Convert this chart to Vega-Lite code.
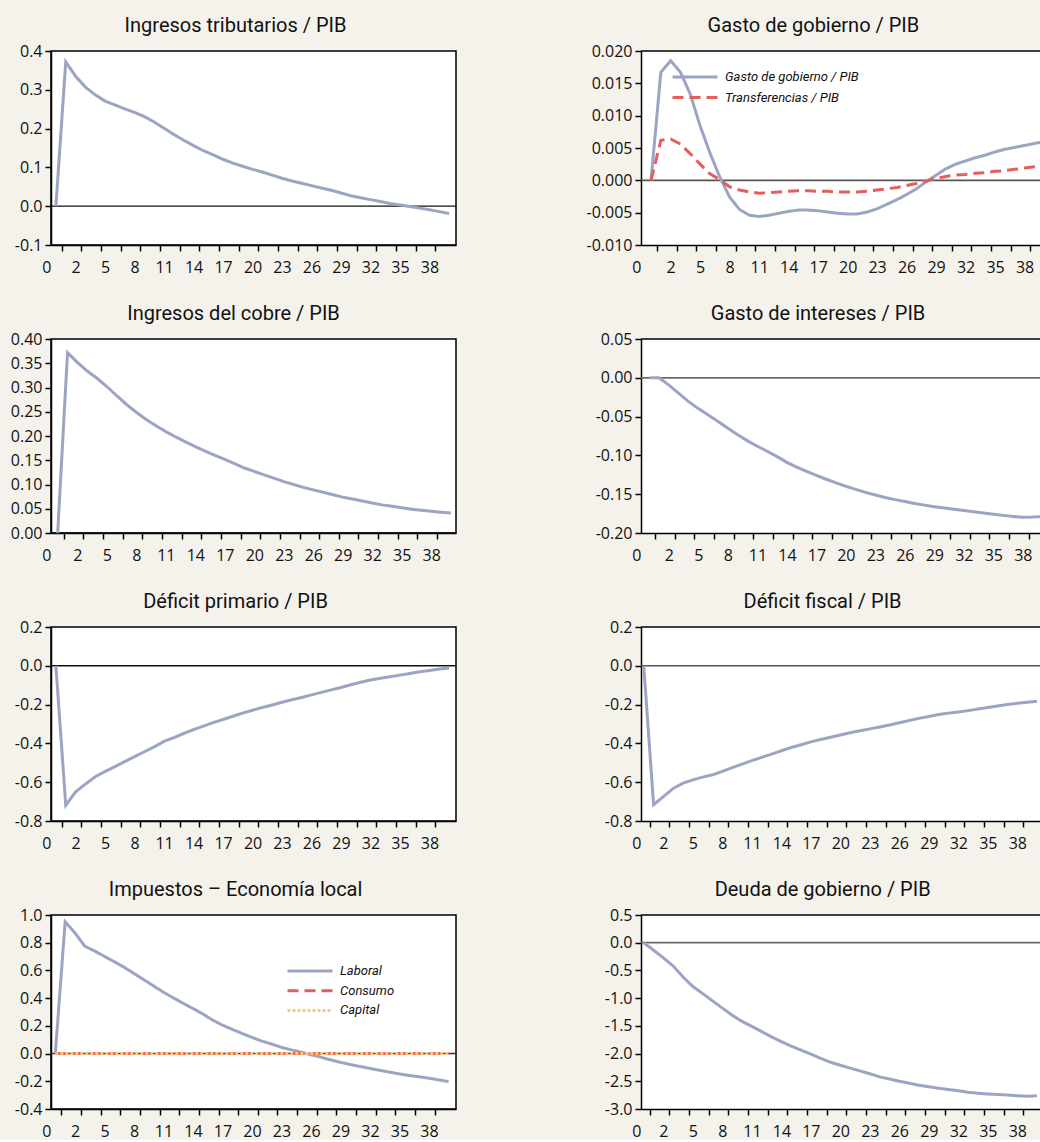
{
  "$schema": "https://vega.github.io/schema/vega-lite/v6.json",
  "background": "#f5f2ec",
  "padding": {"left": 9, "top": 15, "right": 0, "bottom": 0},
  "columns": 2,
  "spacing": {"row": 94, "column": 185},
  "bounds": "flush",
  "align": "each",
  "resolve": {"scale": {"color": "independent", "strokeDash": "independent"}, "legend": {"color": "independent", "strokeDash": "independent"}},
  "config": {
    "view": {"fill": "white", "stroke": "#000", "strokeWidth": 1.5},
    "axis": {"labelFont": "Open Sans", "labelFontSize": 16, "labelColor": "#111", "domainColor": "#000", "domainWidth": 1.5, "tickColor": "#000", "tickWidth": 1.5, "tickSize": 6, "labelPadding": 3, "grid": false},
    "title": {"font": "Roboto", "fontSize": 20, "fontWeight": "normal", "color": "#111", "frame": "bounds", "anchor": "middle", "baseline": "alphabetic", "offset": 7},
    "legend": {"labelFont": "Roboto", "labelFontSize": 13, "labelFontStyle": "italic", "labelColor": "#111"}
  },
  "datasets": {
    "trib": [{"t":0,"v":0},{"t":1,"v":0.372},{"t":2,"v":0.335},{"t":3,"v":0.307},{"t":4,"v":0.287},{"t":5,"v":0.271},{"t":6,"v":0.261},{"t":7,"v":0.251},{"t":8,"v":0.242},{"t":9,"v":0.231},{"t":10,"v":0.217},{"t":11,"v":0.201},{"t":12,"v":0.185},{"t":13,"v":0.170},{"t":14,"v":0.156},{"t":15,"v":0.143},{"t":16,"v":0.132},{"t":17,"v":0.121},{"t":18,"v":0.111},{"t":19,"v":0.103},{"t":20,"v":0.095},{"t":21,"v":0.088},{"t":22,"v":0.080},{"t":23,"v":0.072},{"t":24,"v":0.065},{"t":25,"v":0.059},{"t":26,"v":0.053},{"t":27,"v":0.047},{"t":28,"v":0.041},{"t":29,"v":0.034},{"t":30,"v":0.027},{"t":31,"v":0.022},{"t":32,"v":0.017},{"t":33,"v":0.012},{"t":34,"v":0.007},{"t":35,"v":0.003},{"t":36,"v":-0.001},{"t":37,"v":-0.005},{"t":38,"v":-0.009},{"t":39,"v":-0.014},{"t":40,"v":-0.019}],
    "gob": [{"s":"Gasto de gobierno / PIB","t":0,"v":0},{"s":"Gasto de gobierno / PIB","t":1,"v":0.0167},{"s":"Gasto de gobierno / PIB","t":2,"v":0.0185},{"s":"Gasto de gobierno / PIB","t":3,"v":0.0167},{"s":"Gasto de gobierno / PIB","t":4,"v":0.0133},{"s":"Gasto de gobierno / PIB","t":5,"v":0.0084},{"s":"Gasto de gobierno / PIB","t":6,"v":0.0042},{"s":"Gasto de gobierno / PIB","t":7,"v":0.0005},{"s":"Gasto de gobierno / PIB","t":8,"v":-0.0026},{"s":"Gasto de gobierno / PIB","t":9,"v":-0.0045},{"s":"Gasto de gobierno / PIB","t":10,"v":-0.0054},{"s":"Gasto de gobierno / PIB","t":11,"v":-0.0056},{"s":"Gasto de gobierno / PIB","t":12,"v":-0.0054},{"s":"Gasto de gobierno / PIB","t":13,"v":-0.0051},{"s":"Gasto de gobierno / PIB","t":14,"v":-0.0048},{"s":"Gasto de gobierno / PIB","t":15,"v":-0.0046},{"s":"Gasto de gobierno / PIB","t":16,"v":-0.0046},{"s":"Gasto de gobierno / PIB","t":17,"v":-0.0047},{"s":"Gasto de gobierno / PIB","t":18,"v":-0.0049},{"s":"Gasto de gobierno / PIB","t":19,"v":-0.0051},{"s":"Gasto de gobierno / PIB","t":20,"v":-0.0052},{"s":"Gasto de gobierno / PIB","t":21,"v":-0.0052},{"s":"Gasto de gobierno / PIB","t":22,"v":-0.0049},{"s":"Gasto de gobierno / PIB","t":23,"v":-0.0044},{"s":"Gasto de gobierno / PIB","t":24,"v":-0.0037},{"s":"Gasto de gobierno / PIB","t":25,"v":-0.003},{"s":"Gasto de gobierno / PIB","t":26,"v":-0.0022},{"s":"Gasto de gobierno / PIB","t":27,"v":-0.0013},{"s":"Gasto de gobierno / PIB","t":28,"v":-0.0002},{"s":"Gasto de gobierno / PIB","t":29,"v":0.0008},{"s":"Gasto de gobierno / PIB","t":30,"v":0.0018},{"s":"Gasto de gobierno / PIB","t":31,"v":0.0025},{"s":"Gasto de gobierno / PIB","t":32,"v":0.003},{"s":"Gasto de gobierno / PIB","t":33,"v":0.0035},{"s":"Gasto de gobierno / PIB","t":34,"v":0.0039},{"s":"Gasto de gobierno / PIB","t":35,"v":0.0044},{"s":"Gasto de gobierno / PIB","t":36,"v":0.0048},{"s":"Gasto de gobierno / PIB","t":37,"v":0.0051},{"s":"Gasto de gobierno / PIB","t":38,"v":0.0054},{"s":"Gasto de gobierno / PIB","t":39,"v":0.0057},{"s":"Gasto de gobierno / PIB","t":40,"v":0.006},
      {"s":"Transferencias / PIB","t":0,"v":0},{"s":"Transferencias / PIB","t":1,"v":0.0062},{"s":"Transferencias / PIB","t":2,"v":0.0064},{"s":"Transferencias / PIB","t":3,"v":0.0056},{"s":"Transferencias / PIB","t":4,"v":0.0041},{"s":"Transferencias / PIB","t":5,"v":0.0025},{"s":"Transferencias / PIB","t":6,"v":0.001},{"s":"Transferencias / PIB","t":7,"v":0.0001},{"s":"Transferencias / PIB","t":8,"v":-0.001},{"s":"Transferencias / PIB","t":9,"v":-0.0015},{"s":"Transferencias / PIB","t":10,"v":-0.0018},{"s":"Transferencias / PIB","t":11,"v":-0.002},{"s":"Transferencias / PIB","t":12,"v":-0.0019},{"s":"Transferencias / PIB","t":13,"v":-0.0018},{"s":"Transferencias / PIB","t":14,"v":-0.0017},{"s":"Transferencias / PIB","t":15,"v":-0.0016},{"s":"Transferencias / PIB","t":16,"v":-0.0016},{"s":"Transferencias / PIB","t":17,"v":-0.0017},{"s":"Transferencias / PIB","t":18,"v":-0.0017},{"s":"Transferencias / PIB","t":19,"v":-0.0018},{"s":"Transferencias / PIB","t":20,"v":-0.0018},{"s":"Transferencias / PIB","t":21,"v":-0.0018},{"s":"Transferencias / PIB","t":22,"v":-0.0017},{"s":"Transferencias / PIB","t":23,"v":-0.0015},{"s":"Transferencias / PIB","t":24,"v":-0.0013},{"s":"Transferencias / PIB","t":25,"v":-0.0011},{"s":"Transferencias / PIB","t":26,"v":-0.0008},{"s":"Transferencias / PIB","t":27,"v":-0.0005},{"s":"Transferencias / PIB","t":28,"v":-0.0001},{"s":"Transferencias / PIB","t":29,"v":0.0003},{"s":"Transferencias / PIB","t":30,"v":0.0006},{"s":"Transferencias / PIB","t":31,"v":0.0008},{"s":"Transferencias / PIB","t":32,"v":0.0009},{"s":"Transferencias / PIB","t":33,"v":0.0011},{"s":"Transferencias / PIB","t":34,"v":0.0012},{"s":"Transferencias / PIB","t":35,"v":0.0014},{"s":"Transferencias / PIB","t":36,"v":0.0015},{"s":"Transferencias / PIB","t":37,"v":0.0017},{"s":"Transferencias / PIB","t":38,"v":0.0019},{"s":"Transferencias / PIB","t":39,"v":0.0021},{"s":"Transferencias / PIB","t":40,"v":0.0023}],
    "cobre": [{"t":0,"v":0},{"t":1,"v":0.372},{"t":2,"v":0.352},{"t":3,"v":0.334},{"t":4,"v":0.319},{"t":5,"v":0.302},{"t":6,"v":0.283},{"t":7,"v":0.265},{"t":8,"v":0.249},{"t":9,"v":0.234},{"t":10,"v":0.221},{"t":11,"v":0.209},{"t":12,"v":0.198},{"t":13,"v":0.188},{"t":14,"v":0.178},{"t":15,"v":0.169},{"t":16,"v":0.160},{"t":17,"v":0.152},{"t":18,"v":0.143},{"t":19,"v":0.134},{"t":20,"v":0.127},{"t":21,"v":0.120},{"t":22,"v":0.113},{"t":23,"v":0.106},{"t":24,"v":0.100},{"t":25,"v":0.094},{"t":26,"v":0.089},{"t":27,"v":0.084},{"t":28,"v":0.079},{"t":29,"v":0.074},{"t":30,"v":0.070},{"t":31,"v":0.066},{"t":32,"v":0.062},{"t":33,"v":0.058},{"t":34,"v":0.055},{"t":35,"v":0.052},{"t":36,"v":0.049},{"t":37,"v":0.047},{"t":38,"v":0.045},{"t":39,"v":0.043},{"t":40,"v":0.041}],
    "intereses": [{"t":0,"v":0},{"t":1,"v":0},{"t":2,"v":-0.0094},{"t":3,"v":-0.020},{"t":4,"v":-0.0307},{"t":5,"v":-0.0397},{"t":6,"v":-0.048},{"t":7,"v":-0.0563},{"t":8,"v":-0.065},{"t":9,"v":-0.0733},{"t":10,"v":-0.0813},{"t":11,"v":-0.0882},{"t":12,"v":-0.0946},{"t":13,"v":-0.1016},{"t":14,"v":-0.109},{"t":15,"v":-0.1152},{"t":16,"v":-0.1206},{"t":17,"v":-0.1257},{"t":18,"v":-0.1307},{"t":19,"v":-0.1353},{"t":20,"v":-0.1398},{"t":21,"v":-0.1438},{"t":22,"v":-0.1476},{"t":23,"v":-0.151},{"t":24,"v":-0.1542},{"t":25,"v":-0.157},{"t":26,"v":-0.1595},{"t":27,"v":-0.1619},{"t":28,"v":-0.1641},{"t":29,"v":-0.1661},{"t":30,"v":-0.1679},{"t":31,"v":-0.1695},{"t":32,"v":-0.171},{"t":33,"v":-0.1725},{"t":34,"v":-0.1742},{"t":35,"v":-0.1758},{"t":36,"v":-0.1773},{"t":37,"v":-0.1786},{"t":38,"v":-0.1798},{"t":39,"v":-0.1795},{"t":40,"v":-0.1788}],
    "defprim": [{"t":0,"v":0},{"t":1,"v":-0.719},{"t":2,"v":-0.65},{"t":3,"v":-0.61},{"t":4,"v":-0.572},{"t":5,"v":-0.545},{"t":6,"v":-0.52},{"t":7,"v":-0.494},{"t":8,"v":-0.468},{"t":9,"v":-0.443},{"t":10,"v":-0.418},{"t":11,"v":-0.39},{"t":12,"v":-0.37},{"t":13,"v":-0.349},{"t":14,"v":-0.329},{"t":15,"v":-0.311},{"t":16,"v":-0.293},{"t":17,"v":-0.277},{"t":18,"v":-0.26},{"t":19,"v":-0.244},{"t":20,"v":-0.229},{"t":21,"v":-0.215},{"t":22,"v":-0.202},{"t":23,"v":-0.188},{"t":24,"v":-0.175},{"t":25,"v":-0.163},{"t":26,"v":-0.15},{"t":27,"v":-0.137},{"t":28,"v":-0.124},{"t":29,"v":-0.112},{"t":30,"v":-0.098},{"t":31,"v":-0.085},{"t":32,"v":-0.073},{"t":33,"v":-0.064},{"t":34,"v":-0.056},{"t":35,"v":-0.048},{"t":36,"v":-0.04},{"t":37,"v":-0.031},{"t":38,"v":-0.024},{"t":39,"v":-0.017},{"t":40,"v":-0.011}],
    "deffis": [{"t":0,"v":0},{"t":1,"v":-0.716},{"t":2,"v":-0.674},{"t":3,"v":-0.632},{"t":4,"v":-0.605},{"t":5,"v":-0.588},{"t":6,"v":-0.574},{"t":7,"v":-0.562},{"t":8,"v":-0.544},{"t":9,"v":-0.525},{"t":10,"v":-0.507},{"t":11,"v":-0.489},{"t":12,"v":-0.472},{"t":13,"v":-0.455},{"t":14,"v":-0.438},{"t":15,"v":-0.421},{"t":16,"v":-0.407},{"t":17,"v":-0.392},{"t":18,"v":-0.38},{"t":19,"v":-0.368},{"t":20,"v":-0.357},{"t":21,"v":-0.345},{"t":22,"v":-0.335},{"t":23,"v":-0.325},{"t":24,"v":-0.315},{"t":25,"v":-0.305},{"t":26,"v":-0.294},{"t":27,"v":-0.282},{"t":28,"v":-0.271},{"t":29,"v":-0.261},{"t":30,"v":-0.251},{"t":31,"v":-0.244},{"t":32,"v":-0.238},{"t":33,"v":-0.231},{"t":34,"v":-0.223},{"t":35,"v":-0.215},{"t":36,"v":-0.207},{"t":37,"v":-0.2},{"t":38,"v":-0.193},{"t":39,"v":-0.188},{"t":40,"v":-0.183}],
    "impuestos": [{"s":"Laboral","t":0,"v":0},{"s":"Laboral","t":1,"v":0.952},{"s":"Laboral","t":2,"v":0.87},{"s":"Laboral","t":3,"v":0.775},{"s":"Laboral","t":4,"v":0.74},{"s":"Laboral","t":5,"v":0.701},{"s":"Laboral","t":6,"v":0.663},{"s":"Laboral","t":7,"v":0.623},{"s":"Laboral","t":8,"v":0.578},{"s":"Laboral","t":9,"v":0.533},{"s":"Laboral","t":10,"v":0.488},{"s":"Laboral","t":11,"v":0.443},{"s":"Laboral","t":12,"v":0.402},{"s":"Laboral","t":13,"v":0.363},{"s":"Laboral","t":14,"v":0.325},{"s":"Laboral","t":15,"v":0.286},{"s":"Laboral","t":16,"v":0.242},{"s":"Laboral","t":17,"v":0.205},{"s":"Laboral","t":18,"v":0.175},{"s":"Laboral","t":19,"v":0.145},{"s":"Laboral","t":20,"v":0.117},{"s":"Laboral","t":21,"v":0.09},{"s":"Laboral","t":22,"v":0.069},{"s":"Laboral","t":23,"v":0.045},{"s":"Laboral","t":24,"v":0.027},{"s":"Laboral","t":25,"v":0.01},{"s":"Laboral","t":26,"v":-0.008},{"s":"Laboral","t":27,"v":-0.026},{"s":"Laboral","t":28,"v":-0.045},{"s":"Laboral","t":29,"v":-0.063},{"s":"Laboral","t":30,"v":-0.079},{"s":"Laboral","t":31,"v":-0.093},{"s":"Laboral","t":32,"v":-0.107},{"s":"Laboral","t":33,"v":-0.121},{"s":"Laboral","t":34,"v":-0.134},{"s":"Laboral","t":35,"v":-0.147},{"s":"Laboral","t":36,"v":-0.158},{"s":"Laboral","t":37,"v":-0.167},{"s":"Laboral","t":38,"v":-0.178},{"s":"Laboral","t":39,"v":-0.19},{"s":"Laboral","t":40,"v":-0.202},
      {"s":"Consumo","t":0,"v":0},{"s":"Consumo","t":1,"v":0},{"s":"Consumo","t":2,"v":0},{"s":"Consumo","t":3,"v":0},{"s":"Consumo","t":4,"v":0},{"s":"Consumo","t":5,"v":0},{"s":"Consumo","t":6,"v":0},{"s":"Consumo","t":7,"v":0},{"s":"Consumo","t":8,"v":0},{"s":"Consumo","t":9,"v":0},{"s":"Consumo","t":10,"v":0},{"s":"Consumo","t":11,"v":0},{"s":"Consumo","t":12,"v":0},{"s":"Consumo","t":13,"v":0},{"s":"Consumo","t":14,"v":0},{"s":"Consumo","t":15,"v":0},{"s":"Consumo","t":16,"v":0},{"s":"Consumo","t":17,"v":0},{"s":"Consumo","t":18,"v":0},{"s":"Consumo","t":19,"v":0},{"s":"Consumo","t":20,"v":0},{"s":"Consumo","t":21,"v":0},{"s":"Consumo","t":22,"v":0},{"s":"Consumo","t":23,"v":0},{"s":"Consumo","t":24,"v":0},{"s":"Consumo","t":25,"v":0},{"s":"Consumo","t":26,"v":0},{"s":"Consumo","t":27,"v":0},{"s":"Consumo","t":28,"v":0},{"s":"Consumo","t":29,"v":0},{"s":"Consumo","t":30,"v":0},{"s":"Consumo","t":31,"v":0},{"s":"Consumo","t":32,"v":0},{"s":"Consumo","t":33,"v":0},{"s":"Consumo","t":34,"v":0},{"s":"Consumo","t":35,"v":0},{"s":"Consumo","t":36,"v":0},{"s":"Consumo","t":37,"v":0},{"s":"Consumo","t":38,"v":0},{"s":"Consumo","t":39,"v":0},{"s":"Consumo","t":40,"v":0},
      {"s":"Capital","t":0,"v":0},{"s":"Capital","t":1,"v":0},{"s":"Capital","t":2,"v":0},{"s":"Capital","t":3,"v":0},{"s":"Capital","t":4,"v":0},{"s":"Capital","t":5,"v":0},{"s":"Capital","t":6,"v":0},{"s":"Capital","t":7,"v":0},{"s":"Capital","t":8,"v":0},{"s":"Capital","t":9,"v":0},{"s":"Capital","t":10,"v":0},{"s":"Capital","t":11,"v":0},{"s":"Capital","t":12,"v":0},{"s":"Capital","t":13,"v":0},{"s":"Capital","t":14,"v":0},{"s":"Capital","t":15,"v":0},{"s":"Capital","t":16,"v":0},{"s":"Capital","t":17,"v":0},{"s":"Capital","t":18,"v":0},{"s":"Capital","t":19,"v":0},{"s":"Capital","t":20,"v":0},{"s":"Capital","t":21,"v":0},{"s":"Capital","t":22,"v":0},{"s":"Capital","t":23,"v":0},{"s":"Capital","t":24,"v":0},{"s":"Capital","t":25,"v":0},{"s":"Capital","t":26,"v":0},{"s":"Capital","t":27,"v":0},{"s":"Capital","t":28,"v":0},{"s":"Capital","t":29,"v":0},{"s":"Capital","t":30,"v":0},{"s":"Capital","t":31,"v":0},{"s":"Capital","t":32,"v":0},{"s":"Capital","t":33,"v":0},{"s":"Capital","t":34,"v":0},{"s":"Capital","t":35,"v":0},{"s":"Capital","t":36,"v":0},{"s":"Capital","t":37,"v":0},{"s":"Capital","t":38,"v":0},{"s":"Capital","t":39,"v":0},{"s":"Capital","t":40,"v":0}],
    "deuda": [{"t":0,"v":0},{"t":1,"v":-0.137},{"t":2,"v":-0.274},{"t":3,"v":-0.42},{"t":4,"v":-0.62},{"t":5,"v":-0.79},{"t":6,"v":-0.918},{"t":7,"v":-1.05},{"t":8,"v":-1.18},{"t":9,"v":-1.31},{"t":10,"v":-1.42},{"t":11,"v":-1.51},{"t":12,"v":-1.605},{"t":13,"v":-1.70},{"t":14,"v":-1.785},{"t":15,"v":-1.866},{"t":16,"v":-1.937},{"t":17,"v":-2.01},{"t":18,"v":-2.087},{"t":19,"v":-2.157},{"t":20,"v":-2.21},{"t":21,"v":-2.263},{"t":22,"v":-2.313},{"t":23,"v":-2.364},{"t":24,"v":-2.42},{"t":25,"v":-2.46},{"t":26,"v":-2.50},{"t":27,"v":-2.537},{"t":28,"v":-2.57},{"t":29,"v":-2.60},{"t":30,"v":-2.626},{"t":31,"v":-2.649},{"t":32,"v":-2.672},{"t":33,"v":-2.696},{"t":34,"v":-2.715},{"t":35,"v":-2.728},{"t":36,"v":-2.74},{"t":37,"v":-2.749},{"t":38,"v":-2.759},{"t":39,"v":-2.769},{"t":40,"v":-2.759}]
  },
  "concat": [
    {
      "title": {"text": "Ingresos tributarios / PIB"},
      "width": 405, "height": 194,
      "data": {"name": "trib"},
      "resolve": {"axis": {"x": "independent"}},
      "layer": [
        {"transform": [{"filter": "datum.t == 0"}], "mark": {"type": "rule", "color": "#111", "strokeWidth": 1.3},
         "encoding": {
           "x": {"datum": -0.5, "type": "quantitative", "scale": {"domain": [-0.5, 40.7], "nice": false, "zero": false},
                 "axis": {"orient": "bottom", "values": [-0.5, 2, 5, 8, 11, 14, 17, 20, 23, 26, 29, 32, 35, 38], "labelExpr": "datum.value < 0 ? '0' : format(datum.value, 'd')", "labelAlign": {"condition": {"test": "datum.value < 0", "value": "right"}, "value": "center"}, "ticks": false, "domain": false, "labelPadding": 14, "labelOverlap": false, "labelFlush": false, "labelBound": false, "tickCount": 100, "title": null}},
           "x2": {"datum": 40.7},
           "y": {"datum": 0, "type": "quantitative", "scale": {"domain": [-0.1, 0.4], "nice": false, "zero": false}}}},
        {"mark": {"type": "line", "color": "#9ca4c4", "strokeWidth": 3, "clip": true},
         "encoding": {
           "x": {"field": "t", "type": "quantitative", "scale": {"domain": [-0.5, 40.7], "nice": false, "zero": false},
                 "axis": {"orient": "bottom", "values": [0.6, 2.6, 4.6, 6.6, 8.6, 10.6, 12.6, 14.6, 16.6, 18.6, 20.6, 22.6, 24.6, 26.6, 28.6, 30.6, 32.6, 34.6, 36.6, 38.6], "labels": false, "tickCount": 100, "title": null}},
           "y": {"field": "v", "type": "quantitative", "scale": {"domain": [-0.1, 0.4], "nice": false, "zero": false},
                 "axis": {"values": [-0.1, 0, 0.1, 0.2, 0.3, 0.4], "labelExpr": "replace(format(datum.value, '.1f'), '\u2212', '-')", "tickCount": 100, "labelOverlap": false, "title": null}}}}
      ]
    },
    {
      "title": {"text": "Gasto de gobierno / PIB"},
      "width": 399, "height": 194,
      "view": {"stroke": null},
      "data": {"name": "gob"},
      "resolve": {"axis": {"x": "independent"}},
      "layer": [
        {"transform": [{"filter": "datum.t == 0 && datum.s == 'Transferencias / PIB'"}], "mark": {"type": "rule", "color": "#555", "strokeWidth": 1.6},
         "encoding": {
           "x": {"datum": -1.02, "type": "quantitative", "scale": {"domain": [-1.02, 39.57], "nice": false, "zero": false},
                 "axis": {"orient": "bottom", "values": [-1.02, 2, 5, 8, 11, 14, 17, 20, 23, 26, 29, 32, 35, 38], "labelExpr": "datum.value < 0 ? '0' : format(datum.value, 'd')", "labelAlign": {"condition": {"test": "datum.value < 0", "value": "right"}, "value": "center"}, "ticks": false, "domain": false, "labelPadding": 14, "labelOverlap": false, "labelFlush": false, "labelBound": false, "tickCount": 100, "title": null}},
           "x2": {"datum": 39.57},
           "y": {"datum": 0, "type": "quantitative", "scale": {"domain": [-0.01, 0.02], "nice": false, "zero": false}}}},
        {"transform": [{"filter": "datum.t == 0 && datum.s == 'Transferencias / PIB'"}], "mark": {"type": "rule", "color": "#000", "strokeWidth": 1.5},
         "encoding": {
           "y": {"datum": 0.02, "type": "quantitative", "scale": {"domain": [-0.01, 0.02], "nice": false, "zero": false}}}},
        {"mark": {"type": "line", "strokeWidth": 3, "clip": true},
         "encoding": {
           "x": {"field": "t", "type": "quantitative", "scale": {"domain": [-1.02, 39.57], "nice": false, "zero": false},
                 "axis": {"orient": "bottom", "values": [0.6, 2.6, 4.6, 6.6, 8.6, 10.6, 12.6, 14.6, 16.6, 18.6, 20.6, 22.6, 24.6, 26.6, 28.6, 30.6, 32.6, 34.6, 36.6, 38.6], "labels": false, "tickCount": 100, "title": null}},
           "y": {"field": "v", "type": "quantitative", "scale": {"domain": [-0.01, 0.02], "nice": false, "zero": false},
                 "axis": {"values": [-0.01, -0.005, 0, 0.005, 0.01, 0.015, 0.02], "labelExpr": "replace(format(datum.value, '.3f'), '\u2212', '-')", "tickCount": 100, "labelOverlap": false, "title": null}},
           "color": {"field": "s", "type": "nominal", "scale": {"domain": ["Gasto de gobierno / PIB", "Transferencias / PIB"], "range": ["#9ca4c4", "#e25f5a"]},
                     "legend": {"title": null, "orient": "none", "legendX": 30, "legendY": 18, "symbolType": "stroke", "symbolSize": 2025, "symbolStrokeWidth": 3, "clipHeight": 16, "rowPadding": 4.6, "labelOffset": 6, "padding": 0}},
           "strokeDash": {"field": "s", "type": "nominal", "scale": {"domain": ["Gasto de gobierno / PIB", "Transferencias / PIB"], "range": [[1, 0], [11, 6]]},
                     "legend": {"title": null, "orient": "none", "legendX": 30, "legendY": 18, "symbolType": "stroke", "symbolSize": 2025, "symbolStrokeWidth": 3, "clipHeight": 16, "rowPadding": 4.6, "labelOffset": 6, "padding": 0}}}}
      ]
    },
    {
      "title": {"text": "Ingresos del cobre / PIB"},
      "width": 405, "height": 194,
      "data": {"name": "cobre"},
      "resolve": {"axis": {"x": "independent"}},
      "layer": [
        {"transform": [{"filter": "datum.t == 0"}], "mark": {"type": "rule", "color": "#111", "strokeWidth": 1.3},
         "encoding": {
           "x": {"datum": -0.68, "type": "quantitative", "scale": {"domain": [-0.68, 40.52], "nice": false, "zero": false},
                 "axis": {"orient": "bottom", "values": [-0.68, 2, 5, 8, 11, 14, 17, 20, 23, 26, 29, 32, 35, 38], "labelExpr": "datum.value < 0 ? '0' : format(datum.value, 'd')", "labelAlign": {"condition": {"test": "datum.value < 0", "value": "right"}, "value": "center"}, "ticks": false, "domain": false, "labelPadding": 14, "labelOverlap": false, "labelFlush": false, "labelBound": false, "tickCount": 100, "title": null}},
           "x2": {"datum": 40.52},
           "y": {"datum": 0, "type": "quantitative", "scale": {"domain": [0, 0.4], "nice": false, "zero": false}}}},
        {"mark": {"type": "line", "color": "#9ca4c4", "strokeWidth": 3, "clip": true},
         "encoding": {
           "x": {"field": "t", "type": "quantitative", "scale": {"domain": [-0.68, 40.52], "nice": false, "zero": false},
                 "axis": {"orient": "bottom", "values": [0.6, 2.6, 4.6, 6.6, 8.6, 10.6, 12.6, 14.6, 16.6, 18.6, 20.6, 22.6, 24.6, 26.6, 28.6, 30.6, 32.6, 34.6, 36.6, 38.6], "labels": false, "tickCount": 100, "title": null}},
           "y": {"field": "v", "type": "quantitative", "scale": {"domain": [0, 0.4], "nice": false, "zero": false},
                 "axis": {"values": [0, 0.05, 0.1, 0.15, 0.2, 0.25, 0.3, 0.35, 0.4], "labelExpr": "replace(format(datum.value, '.2f'), '\u2212', '-')", "tickCount": 100, "labelOverlap": false, "title": null}}}}
      ]
    },
    {
      "title": {"text": "Gasto de intereses / PIB"},
      "width": 399, "height": 194,
      "view": {"stroke": null},
      "data": {"name": "intereses"},
      "resolve": {"axis": {"x": "independent"}},
      "layer": [
        {"transform": [{"filter": "datum.t == 0"}], "mark": {"type": "rule", "color": "#6a6a6a", "strokeWidth": 1.8},
         "encoding": {
           "x": {"datum": -0.84, "type": "quantitative", "scale": {"domain": [-0.84, 39.75], "nice": false, "zero": false},
                 "axis": {"orient": "bottom", "values": [-0.84, 2, 5, 8, 11, 14, 17, 20, 23, 26, 29, 32, 35, 38], "labelExpr": "datum.value < 0 ? '0' : format(datum.value, 'd')", "labelAlign": {"condition": {"test": "datum.value < 0", "value": "right"}, "value": "center"}, "ticks": false, "domain": false, "labelPadding": 14, "labelOverlap": false, "labelFlush": false, "labelBound": false, "tickCount": 100, "title": null}},
           "x2": {"datum": 39.75},
           "y": {"datum": 0, "type": "quantitative", "scale": {"domain": [-0.2, 0.05], "nice": false, "zero": false}}}},
        {"transform": [{"filter": "datum.t == 0"}], "mark": {"type": "rule", "color": "#000", "strokeWidth": 1.5},
         "encoding": {
           "y": {"datum": 0.05, "type": "quantitative", "scale": {"domain": [-0.2, 0.05], "nice": false, "zero": false}}}},
        {"mark": {"type": "line", "color": "#9ca4c4", "strokeWidth": 3, "clip": true},
         "encoding": {
           "x": {"field": "t", "type": "quantitative", "scale": {"domain": [-0.84, 39.75], "nice": false, "zero": false},
                 "axis": {"orient": "bottom", "values": [0.6, 2.6, 4.6, 6.6, 8.6, 10.6, 12.6, 14.6, 16.6, 18.6, 20.6, 22.6, 24.6, 26.6, 28.6, 30.6, 32.6, 34.6, 36.6, 38.6], "labels": false, "tickCount": 100, "title": null}},
           "y": {"field": "v", "type": "quantitative", "scale": {"domain": [-0.2, 0.05], "nice": false, "zero": false},
                 "axis": {"values": [-0.2, -0.15, -0.1, -0.05, 0, 0.05], "labelExpr": "replace(format(datum.value, '.2f'), '\u2212', '-')", "tickCount": 100, "labelOverlap": false, "title": null}}}}
      ]
    },
    {
      "title": {"text": "Déficit primario / PIB"},
      "width": 405, "height": 194,
      "data": {"name": "defprim"},
      "resolve": {"axis": {"x": "independent"}},
      "layer": [
        {"transform": [{"filter": "datum.t == 0"}], "mark": {"type": "rule", "color": "#111", "strokeWidth": 1.5},
         "encoding": {
           "x": {"datum": -0.5, "type": "quantitative", "scale": {"domain": [-0.5, 40.7], "nice": false, "zero": false},
                 "axis": {"orient": "bottom", "values": [-0.5, 2, 5, 8, 11, 14, 17, 20, 23, 26, 29, 32, 35, 38], "labelExpr": "datum.value < 0 ? '0' : format(datum.value, 'd')", "labelAlign": {"condition": {"test": "datum.value < 0", "value": "right"}, "value": "center"}, "ticks": false, "domain": false, "labelPadding": 14, "labelOverlap": false, "labelFlush": false, "labelBound": false, "tickCount": 100, "title": null}},
           "x2": {"datum": 40.7},
           "y": {"datum": 0, "type": "quantitative", "scale": {"domain": [-0.8, 0.2], "nice": false, "zero": false}}}},
        {"mark": {"type": "line", "color": "#9ca4c4", "strokeWidth": 3, "clip": true},
         "encoding": {
           "x": {"field": "t", "type": "quantitative", "scale": {"domain": [-0.5, 40.7], "nice": false, "zero": false},
                 "axis": {"orient": "bottom", "values": [0.6, 2.6, 4.6, 6.6, 8.6, 10.6, 12.6, 14.6, 16.6, 18.6, 20.6, 22.6, 24.6, 26.6, 28.6, 30.6, 32.6, 34.6, 36.6, 38.6], "labels": false, "tickCount": 100, "title": null}},
           "y": {"field": "v", "type": "quantitative", "scale": {"domain": [-0.8, 0.2], "nice": false, "zero": false},
                 "axis": {"values": [-0.8, -0.6, -0.4, -0.2, 0, 0.2], "labelExpr": "replace(format(datum.value, '.1f'), '\u2212', '-')", "tickCount": 100, "labelOverlap": false, "title": null}}}}
      ]
    },
    {
      "title": {"text": "Déficit fiscal / PIB"},
      "width": 399, "height": 194,
      "view": {"stroke": null},
      "data": {"name": "deffis"},
      "resolve": {"axis": {"x": "independent"}},
      "layer": [
        {"transform": [{"filter": "datum.t == 0"}], "mark": {"type": "rule", "color": "#555", "strokeWidth": 1.6},
         "encoding": {
           "x": {"datum": -0.28, "type": "quantitative", "scale": {"domain": [-0.28, 40.31], "nice": false, "zero": false},
                 "axis": {"orient": "bottom", "values": [-0.28, 2, 5, 8, 11, 14, 17, 20, 23, 26, 29, 32, 35, 38], "labelExpr": "datum.value < 0 ? '0' : format(datum.value, 'd')", "labelAlign": {"condition": {"test": "datum.value < 0", "value": "right"}, "value": "center"}, "ticks": false, "domain": false, "labelPadding": 14, "labelOverlap": false, "labelFlush": false, "labelBound": false, "tickCount": 100, "title": null}},
           "x2": {"datum": 40.31},
           "y": {"datum": 0, "type": "quantitative", "scale": {"domain": [-0.8, 0.2], "nice": false, "zero": false}}}},
        {"transform": [{"filter": "datum.t == 0"}], "mark": {"type": "rule", "color": "#000", "strokeWidth": 1.5},
         "encoding": {
           "y": {"datum": 0.2, "type": "quantitative", "scale": {"domain": [-0.8, 0.2], "nice": false, "zero": false}}}},
        {"mark": {"type": "line", "color": "#9ca4c4", "strokeWidth": 3, "clip": true},
         "encoding": {
           "x": {"field": "t", "type": "quantitative", "scale": {"domain": [-0.28, 40.31], "nice": false, "zero": false},
                 "axis": {"orient": "bottom", "values": [0.6, 2.6, 4.6, 6.6, 8.6, 10.6, 12.6, 14.6, 16.6, 18.6, 20.6, 22.6, 24.6, 26.6, 28.6, 30.6, 32.6, 34.6, 36.6, 38.6], "labels": false, "tickCount": 100, "title": null}},
           "y": {"field": "v", "type": "quantitative", "scale": {"domain": [-0.8, 0.2], "nice": false, "zero": false},
                 "axis": {"values": [-0.8, -0.6, -0.4, -0.2, 0, 0.2], "labelExpr": "replace(format(datum.value, '.1f'), '\u2212', '-')", "tickCount": 100, "labelOverlap": false, "title": null}}}}
      ]
    },
    {
      "title": {"text": "Impuestos – Economía local"},
      "width": 405, "height": 194,
      "data": {"name": "impuestos"},
      "resolve": {"axis": {"x": "independent"}},
      "layer": [
        {"transform": [{"filter": "datum.t == 0 && datum.s == 'Laboral'"}], "mark": {"type": "rule", "color": "#333", "strokeWidth": 1.5},
         "encoding": {
           "x": {"datum": -0.44, "type": "quantitative", "scale": {"domain": [-0.44, 40.76], "nice": false, "zero": false},
                 "axis": {"orient": "bottom", "values": [-0.44, 2, 5, 8, 11, 14, 17, 20, 23, 26, 29, 32, 35, 38], "labelExpr": "datum.value < 0 ? '0' : format(datum.value, 'd')", "labelAlign": {"condition": {"test": "datum.value < 0", "value": "right"}, "value": "center"}, "ticks": false, "domain": false, "labelPadding": 14, "labelOverlap": false, "labelFlush": false, "labelBound": false, "tickCount": 100, "title": null}},
           "x2": {"datum": 40.76},
           "y": {"datum": 0, "type": "quantitative", "scale": {"domain": [-0.4, 1.0], "nice": false, "zero": false}}}},
        {"mark": {"type": "line", "strokeWidth": 3, "clip": true},
         "encoding": {
           "x": {"field": "t", "type": "quantitative", "scale": {"domain": [-0.44, 40.76], "nice": false, "zero": false},
                 "axis": {"orient": "bottom", "values": [0.6, 2.6, 4.6, 6.6, 8.6, 10.6, 12.6, 14.6, 16.6, 18.6, 20.6, 22.6, 24.6, 26.6, 28.6, 30.6, 32.6, 34.6, 36.6, 38.6], "labels": false, "tickCount": 100, "title": null}},
           "y": {"field": "v", "type": "quantitative", "scale": {"domain": [-0.4, 1.0], "nice": false, "zero": false},
                 "axis": {"values": [-0.4, -0.2, 0, 0.2, 0.4, 0.6, 0.8, 1.0], "labelExpr": "replace(format(datum.value, '.1f'), '\u2212', '-')", "tickCount": 100, "labelOverlap": false, "title": null}},
           "color": {"field": "s", "type": "nominal", "scale": {"domain": ["Laboral", "Consumo", "Capital"], "range": ["#9ca4c4", "#e25f5a", "#fbc57c"]},
                     "legend": {"title": null, "orient": "none", "legendX": 235, "legendY": 48, "symbolType": "stroke", "symbolSize": 2025, "symbolStrokeWidth": 3, "clipHeight": 16, "rowPadding": 3.7, "labelOffset": 6, "padding": 0}},
           "strokeDash": {"field": "s", "type": "nominal", "scale": {"domain": ["Laboral", "Consumo", "Capital"], "range": [[1, 0], [11, 6], [3, 2]]},
                     "legend": {"title": null, "orient": "none", "legendX": 235, "legendY": 48, "symbolType": "stroke", "symbolSize": 2025, "symbolStrokeWidth": 3, "clipHeight": 16, "rowPadding": 3.7, "labelOffset": 6, "padding": 0}}}}
      ]
    },
    {
      "title": {"text": "Deuda de gobierno / PIB"},
      "width": 399, "height": 194,
      "view": {"stroke": null},
      "data": {"name": "deuda"},
      "resolve": {"axis": {"x": "independent"}},
      "layer": [
        {"transform": [{"filter": "datum.t == 0"}], "mark": {"type": "rule", "color": "#6a6a6a", "strokeWidth": 1.8},
         "encoding": {
           "x": {"datum": -0.28, "type": "quantitative", "scale": {"domain": [-0.28, 40.31], "nice": false, "zero": false},
                 "axis": {"orient": "bottom", "values": [-0.28, 2, 5, 8, 11, 14, 17, 20, 23, 26, 29, 32, 35, 38], "labelExpr": "datum.value < 0 ? '0' : format(datum.value, 'd')", "labelAlign": {"condition": {"test": "datum.value < 0", "value": "right"}, "value": "center"}, "ticks": false, "domain": false, "labelPadding": 14, "labelOverlap": false, "labelFlush": false, "labelBound": false, "tickCount": 100, "title": null}},
           "x2": {"datum": 40.31},
           "y": {"datum": 0, "type": "quantitative", "scale": {"domain": [-3.0, 0.5], "nice": false, "zero": false}}}},
        {"transform": [{"filter": "datum.t == 0"}], "mark": {"type": "rule", "color": "#000", "strokeWidth": 1.5},
         "encoding": {
           "y": {"datum": 0.5, "type": "quantitative", "scale": {"domain": [-3.0, 0.5], "nice": false, "zero": false}}}},
        {"mark": {"type": "line", "color": "#9ca4c4", "strokeWidth": 3, "clip": true},
         "encoding": {
           "x": {"field": "t", "type": "quantitative", "scale": {"domain": [-0.28, 40.31], "nice": false, "zero": false},
                 "axis": {"orient": "bottom", "values": [0.6, 2.6, 4.6, 6.6, 8.6, 10.6, 12.6, 14.6, 16.6, 18.6, 20.6, 22.6, 24.6, 26.6, 28.6, 30.6, 32.6, 34.6, 36.6, 38.6], "labels": false, "tickCount": 100, "title": null}},
           "y": {"field": "v", "type": "quantitative", "scale": {"domain": [-3.0, 0.5], "nice": false, "zero": false},
                 "axis": {"values": [-3.0, -2.5, -2.0, -1.5, -1.0, -0.5, 0, 0.5], "labelExpr": "replace(format(datum.value, '.1f'), '\u2212', '-')", "tickCount": 100, "labelOverlap": false, "title": null}}}}
      ]
    }
  ]
}
